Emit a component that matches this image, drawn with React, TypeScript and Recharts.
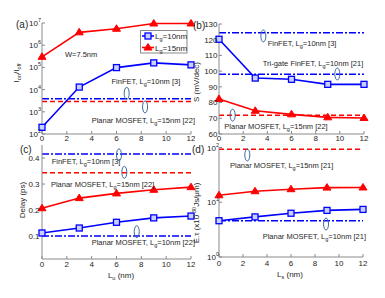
import React from 'react';
import { Line, LineChart, ReferenceDot, ReferenceLine, XAxis, YAxis } from 'recharts';

// spacer length Lu / Ls (nm)
const spacerNm = [0, 3, 6, 9, 12];
const xTicks = [0, 2, 4, 6, 8, 10, 12];

// (a) Ion/Ioff
const onOffLg10 = [200, 1.3e4, 9.8e4, 1.6e5, 1.3e5];
const onOffLg15 = [3e5, 3.8e6, 5.5e6, 9.5e6, 9.5e6];
// (b) subthreshold swing, mV/dec
const swingLg10 = [120.3, 95.6, 94.8, 91.6, 91.6];
const swingLg15 = [82.3, 74.8, 72.5, 70.6, 70.2];
// (c) delay, ps
const delayLg10 = [0.112, 0.131, 0.153, 0.17, 0.177];
const delayLg15 = [0.207, 0.246, 0.264, 0.278, 0.288];
// (d) energy-delay, x1e-30 Js/um
const edpLg10 = [4.6, 5.4, 6.3, 7.1, 7.4];
const edpLg15 = [13.4, 15.9, 17.3, 18.5, 18.6];

// benchmark levels from the cited works
const onOffFinFet = 3.9e3;
const onOffPlanar15 = 2.9e3;
const swingFinFet = 124.5;
const swingTrigate = 98;
const swingPlanar15 = 72;
const delayFinFet = 0.415;
const delayPlanar15 = 0.343;
const delayPlanar10 = 0.1;
const edpPlanar15 = 93;
const edpPlanar10 = 4.6;

const onOffTicks = [1e2, 1e3, 1e4, 1e5, 1e6, 1e7];
const swingTicks = [60, 70, 80, 90, 100, 110, 120, 130];
const delayTicks = [0.1, 0.2, 0.3, 0.4];
const edpTicks = [1, 10, 100];

const rows = spacerNm.map((x, i) => ({
  x,
  onOff10: onOffLg10[i],
  onOff15: onOffLg15[i],
  swing10: swingLg10[i],
  swing15: swingLg15[i],
  delay10: delayLg10[i],
  delay15: delayLg15[i],
  edp10: edpLg10[i],
  edp15: edpLg15[i],
}));

const BLUE = '#0000ff';
const RED = '#ff0000';
const AXIS = '#8a8a8a';
const INK = '#262626';
const OVAL = '#3d6aa3';
const FONT = '"Liberation Sans", Arial, sans-serif';
const BLUE_DASH = '7 2 2 2';
const RED_DASH = '5 3';

const Square = (p: any) =>
  p.cx == null ? null : (
    <rect key={`s${p.index}`} x={p.cx - 3} y={p.cy - 3} width={6} height={6} fill="#c8d0ff" stroke={BLUE} strokeWidth={1.3} />
  );

const Triangle = (p: any) =>
  p.cx == null ? null : (
    <polygon
      key={`t${p.index}`}
      points={`${p.cx},${p.cy - 4} ${p.cx + 4},${p.cy + 2.5} ${p.cx - 4},${p.cy + 2.5}`}
      fill={RED}
      stroke={RED}
    />
  );

const PowTick = ({ x, y, payload }: any) => (
  <text x={x} y={y + 3} textAnchor="end" fontSize={8} fill={INK} fontFamily={FONT}>
    10<tspan dy={-4} fontSize={5.5}>{Math.round(Math.log10(payload.value))}</tspan>
  </text>
);

const Lg = ({ s = 'g', rest }: { s?: string; rest: string }) => (
  <>
    L<tspan dy={2} fontSize={5.5}>{s}</tspan>
    <tspan dy={-2}>{rest}</tspan>
  </>
);

const note = (content: React.ReactNode) => (p: any) => (
  <text x={p.cx} y={p.cy} dy={3} fontSize={7.5} fill={INK} fontFamily={FONT}>
    {content}
  </text>
);

const oval = (p: any) => <ellipse cx={p.cx} cy={p.cy} rx={2.5} ry={6} fill="none" stroke={OVAL} strokeWidth={1} />;

const tickStyle = { fontSize: 8, fill: INK, fontFamily: FONT };

function frame(scale: 'log' | 'linear', domain: number[], ticks: number[]) {
  return [
    <XAxis key="xt" xAxisId="top" orientation="top" type="number" dataKey="x" domain={[0, 12]} ticks={xTicks}
      interval={0} height={0} tick={false} tickSize={-3} stroke={AXIS} />,
    <YAxis key="yr" yAxisId="right" orientation="right" type="number" scale={scale} domain={domain} ticks={ticks}
      interval={0} width={0} tick={false} tickSize={-3} stroke={AXIS} />,
  ];
}

function PanelA() {
  return (
    <LineChart width={195} height={150} data={rows} margin={{ top: 23, right: 4, bottom: 0, left: 0 }}>
      <XAxis type="number" dataKey="x" domain={[0, 12]} ticks={xTicks} interval={0} height={16} tickSize={-3}
        tickMargin={4} stroke={AXIS} tick={tickStyle} />
      <YAxis type="number" scale="log" domain={[1e2, 1e7]} ticks={onOffTicks} interval={0} width={42} tickSize={-3}
        tickMargin={4} stroke={AXIS} tick={<PowTick />} />
      {frame('log', [1e2, 1e7], onOffTicks)}
      <ReferenceLine y={onOffFinFet} stroke={BLUE} strokeWidth={1.5} strokeDasharray={BLUE_DASH} />
      <ReferenceLine y={onOffPlanar15} stroke={RED} strokeWidth={1.5} strokeDasharray={RED_DASH} />
      <Line dataKey="onOff10" stroke={BLUE} strokeWidth={1.6} dot={Square} isAnimationActive={false} />
      <Line dataKey="onOff15" stroke={RED} strokeWidth={1.6} dot={Triangle} isAnimationActive={false} />
      <ReferenceDot x={1.85} y={4e5} shape={note('W=7.5nm')} />
      <ReferenceDot x={5.6} y={2.45e4} shape={note(<>FinFET, <Lg rest="=10nm [3]" /></>)} />
      <ReferenceDot x={6.82} y={6.8e3} shape={oval} />
      <ReferenceDot x={8.3} y={1.66e3} shape={oval} />
      <ReferenceDot x={4.0} y={437} shape={note(<>Planar MOSFET, <Lg rest="=15nm  [22]" /></>)} />
    </LineChart>
  );
}

function PanelB() {
  return (
    <LineChart width={195} height={150} data={rows} margin={{ top: 24, right: 21, bottom: 0, left: 0 }}>
      <XAxis type="number" dataKey="x" domain={[0, 12]} ticks={xTicks} interval={0} height={16} tickSize={-3}
        tickMargin={4} stroke={AXIS} tick={tickStyle} />
      <YAxis type="number" domain={[60, 130]} ticks={swingTicks} interval={0} width={29} tickSize={-3}
        tickMargin={4.5} stroke={AXIS} tick={tickStyle} />
      {frame('linear', [60, 130], swingTicks)}
      <ReferenceLine y={swingFinFet} stroke={BLUE} strokeWidth={1.5} strokeDasharray={BLUE_DASH} />
      <ReferenceLine y={swingTrigate} stroke={BLUE} strokeWidth={1.5} strokeDasharray={BLUE_DASH} />
      <ReferenceLine y={swingPlanar15} stroke={RED} strokeWidth={1.5} strokeDasharray={RED_DASH} />
      <Line dataKey="swing10" stroke={BLUE} strokeWidth={1.6} dot={Square} isAnimationActive={false} />
      <Line dataKey="swing15" stroke={RED} strokeWidth={1.6} dot={Triangle} isAnimationActive={false} />
      <ReferenceDot x={3.67} y={122.4} shape={oval} />
      <ReferenceDot x={4.03} y={117.7} shape={note(<>FinFET, <Lg rest="=10nm [3]" /></>)} />
      <ReferenceDot x={3.62} y={105.4} shape={note(<>Tri-gate FinFET, <Lg rest="=10nm [21]" /></>)} />
      <ReferenceDot x={9.79} y={98.2} shape={oval} />
      <ReferenceDot x={1.13} y={72} shape={oval} />
      <ReferenceDot x={0.44} y={65.1} shape={note(<>Planar MOSFET, <Lg rest="=15nm [22]" /></>)} />
    </LineChart>
  );
}

function PanelC() {
  return (
    <LineChart width={195} height={158} data={rows} margin={{ top: 5, right: 4, bottom: 0, left: 0 }}>
      <XAxis type="number" dataKey="x" domain={[0, 12]} ticks={xTicks} interval={0} height={39} tickSize={-3}
        tickMargin={5} stroke={AXIS} tick={tickStyle} />
      <YAxis type="number" domain={[0.012, 0.45]} ticks={delayTicks} interval={0} width={42} tickSize={-3}
        tickMargin={5.5} stroke={AXIS} tick={tickStyle} />
      {frame('linear', [0.012, 0.45], delayTicks)}
      <ReferenceLine y={delayFinFet} stroke={BLUE} strokeWidth={1.5} strokeDasharray={BLUE_DASH} />
      <ReferenceLine y={delayPlanar15} stroke={RED} strokeWidth={1.5} strokeDasharray={RED_DASH} />
      <ReferenceLine y={delayPlanar10} stroke={BLUE} strokeWidth={1.5} strokeDasharray={BLUE_DASH} />
      <Line dataKey="delay10" stroke={BLUE} strokeWidth={1.6} dot={Square} isAnimationActive={false} />
      <Line dataKey="delay15" stroke={RED} strokeWidth={1.6} dot={Triangle} isAnimationActive={false} />
      <ReferenceDot x={0.78} y={0.39} shape={note(<>FinFET, <Lg rest="=10nm [3]" /></>)} />
      <ReferenceDot x={6.2} y={0.412} shape={oval} />
      <ReferenceDot x={6.63} y={0.345} shape={oval} />
      <ReferenceDot x={0.72} y={0.3} shape={note(<>Planar MOSFET, <Lg rest="=15nm  [22]" /></>)} />
      <ReferenceDot x={7.63} y={0.117} shape={oval} />
      <ReferenceDot x={4.0} y={0.078} shape={note(<>Planar MOSFET, <Lg rest="=10nm  [22]" /></>)} />
    </LineChart>
  );
}

function PanelD() {
  return (
    <LineChart width={195} height={158} data={rows} margin={{ top: 7.5, right: 22, bottom: 0, left: 0 }}>
      <XAxis type="number" dataKey="x" domain={[0, 12]} ticks={xTicks} interval={0} height={41} tickSize={-3}
        tickMargin={6} stroke={AXIS} tick={tickStyle} />
      <YAxis type="number" scale="log" domain={[1, 100]} ticks={edpTicks} interval={0} width={29} tickSize={-3}
        tickMargin={3} stroke={AXIS} tick={<PowTick />} />
      {frame('log', [1, 100], edpTicks)}
      <ReferenceLine y={edpPlanar15} stroke={RED} strokeWidth={1.5} strokeDasharray={RED_DASH} />
      <ReferenceLine y={edpPlanar10} stroke={BLUE} strokeWidth={1.5} strokeDasharray={BLUE_DASH} />
      <Line dataKey="edp10" stroke={BLUE} strokeWidth={1.6} dot={Square} isAnimationActive={false} />
      <Line dataKey="edp15" stroke={RED} strokeWidth={1.6} dot={Triangle} isAnimationActive={false} />
      <ReferenceDot x={2.36} y={73} shape={oval} />
      <ReferenceDot x={0.92} y={48} shape={note(<>Planar MOSFET, <Lg rest="=15nm [21]" /></>)} />
      <ReferenceDot x={8.92} y={4.0} shape={oval} />
      <ReferenceDot x={3.64} y={2.45} shape={note(<>Planar MOSFET, <Lg rest="=10nm [21]" /></>)} />
    </LineChart>
  );
}

function Overlay() {
  const t = { fill: INK, fontFamily: FONT };
  return (
    <svg width={385} height={298} style={{ position: 'absolute', left: 0, top: 0, pointerEvents: 'none' }}>
      <text x={16} y={28} fontSize={10} {...t}>(a)</text>
      <text x={193} y={29} fontSize={10} {...t}>(b)</text>
      <text x={20} y={153} fontSize={10} {...t}>(c)</text>
      <text x={192} y={153} fontSize={10} {...t}>(d)</text>

      <text transform="translate(19,73) rotate(-90)" textAnchor="middle" fontSize={8} {...t}>
        I<tspan dy={2} fontSize={5.5}>on</tspan><tspan dy={-2}>/I</tspan><tspan dy={2} fontSize={5.5}>off</tspan>
      </text>
      <text transform="translate(199,82) rotate(-90)" textAnchor="middle" fontSize={8} {...t}>S (mV/dec)</text>
      <text transform="translate(25,200) rotate(-90)" textAnchor="middle" fontSize={8} {...t}>Delay (ps)</text>
      <text transform="translate(199,213) rotate(-90)" textAnchor="middle" fontSize={8} {...t}>
        E.τ (x10<tspan dy={-3} fontSize={5.5}>-30</tspan><tspan dy={3}>Js/μm)</tspan>
      </text>
      <text x={121} y={278} textAnchor="middle" fontSize={8} {...t}>
        <Lg s="u" rest=" (nm)" />
      </text>
      <text x={290} y={277} textAnchor="middle" fontSize={8} {...t}>
        <Lg s="s" rest=" (nm)" />
      </text>

      <g>
        <rect x={140.5} y={30.5} width={46.5} height={22.5} fill="#fff" stroke={AXIS} />
        <line x1={142} x2={154} y1={36} y2={36} stroke={BLUE} strokeWidth={1.6} />
        <Square cx={148} cy={36} index={0} />
        <text x={155} y={39} fontSize={8} {...t}><Lg rest="=10nm" /></text>
        <line x1={142} x2={154} y1={47.5} y2={47.5} stroke={RED} strokeWidth={1.6} />
        <Triangle cx={148} cy={47.5} index={1} />
        <text x={155} y={50.5} fontSize={8} {...t}><Lg rest="=15nm" /></text>
      </g>
    </svg>
  );
}

export default function App() {
  const at = (left: number, top: number): React.CSSProperties => ({ position: 'absolute', left, top });
  return (
    <div style={{ position: 'absolute', left: 0, top: 0, width: 385, height: 298, background: '#fff', fontFamily: FONT }}>
      <div style={at(0, 0)}><PanelA /></div>
      <div style={at(190, 0)}><PanelB /></div>
      <div style={at(0, 140)}><PanelC /></div>
      <div style={at(190, 140)}><PanelD /></div>
      <Overlay />
    </div>
  );
}
